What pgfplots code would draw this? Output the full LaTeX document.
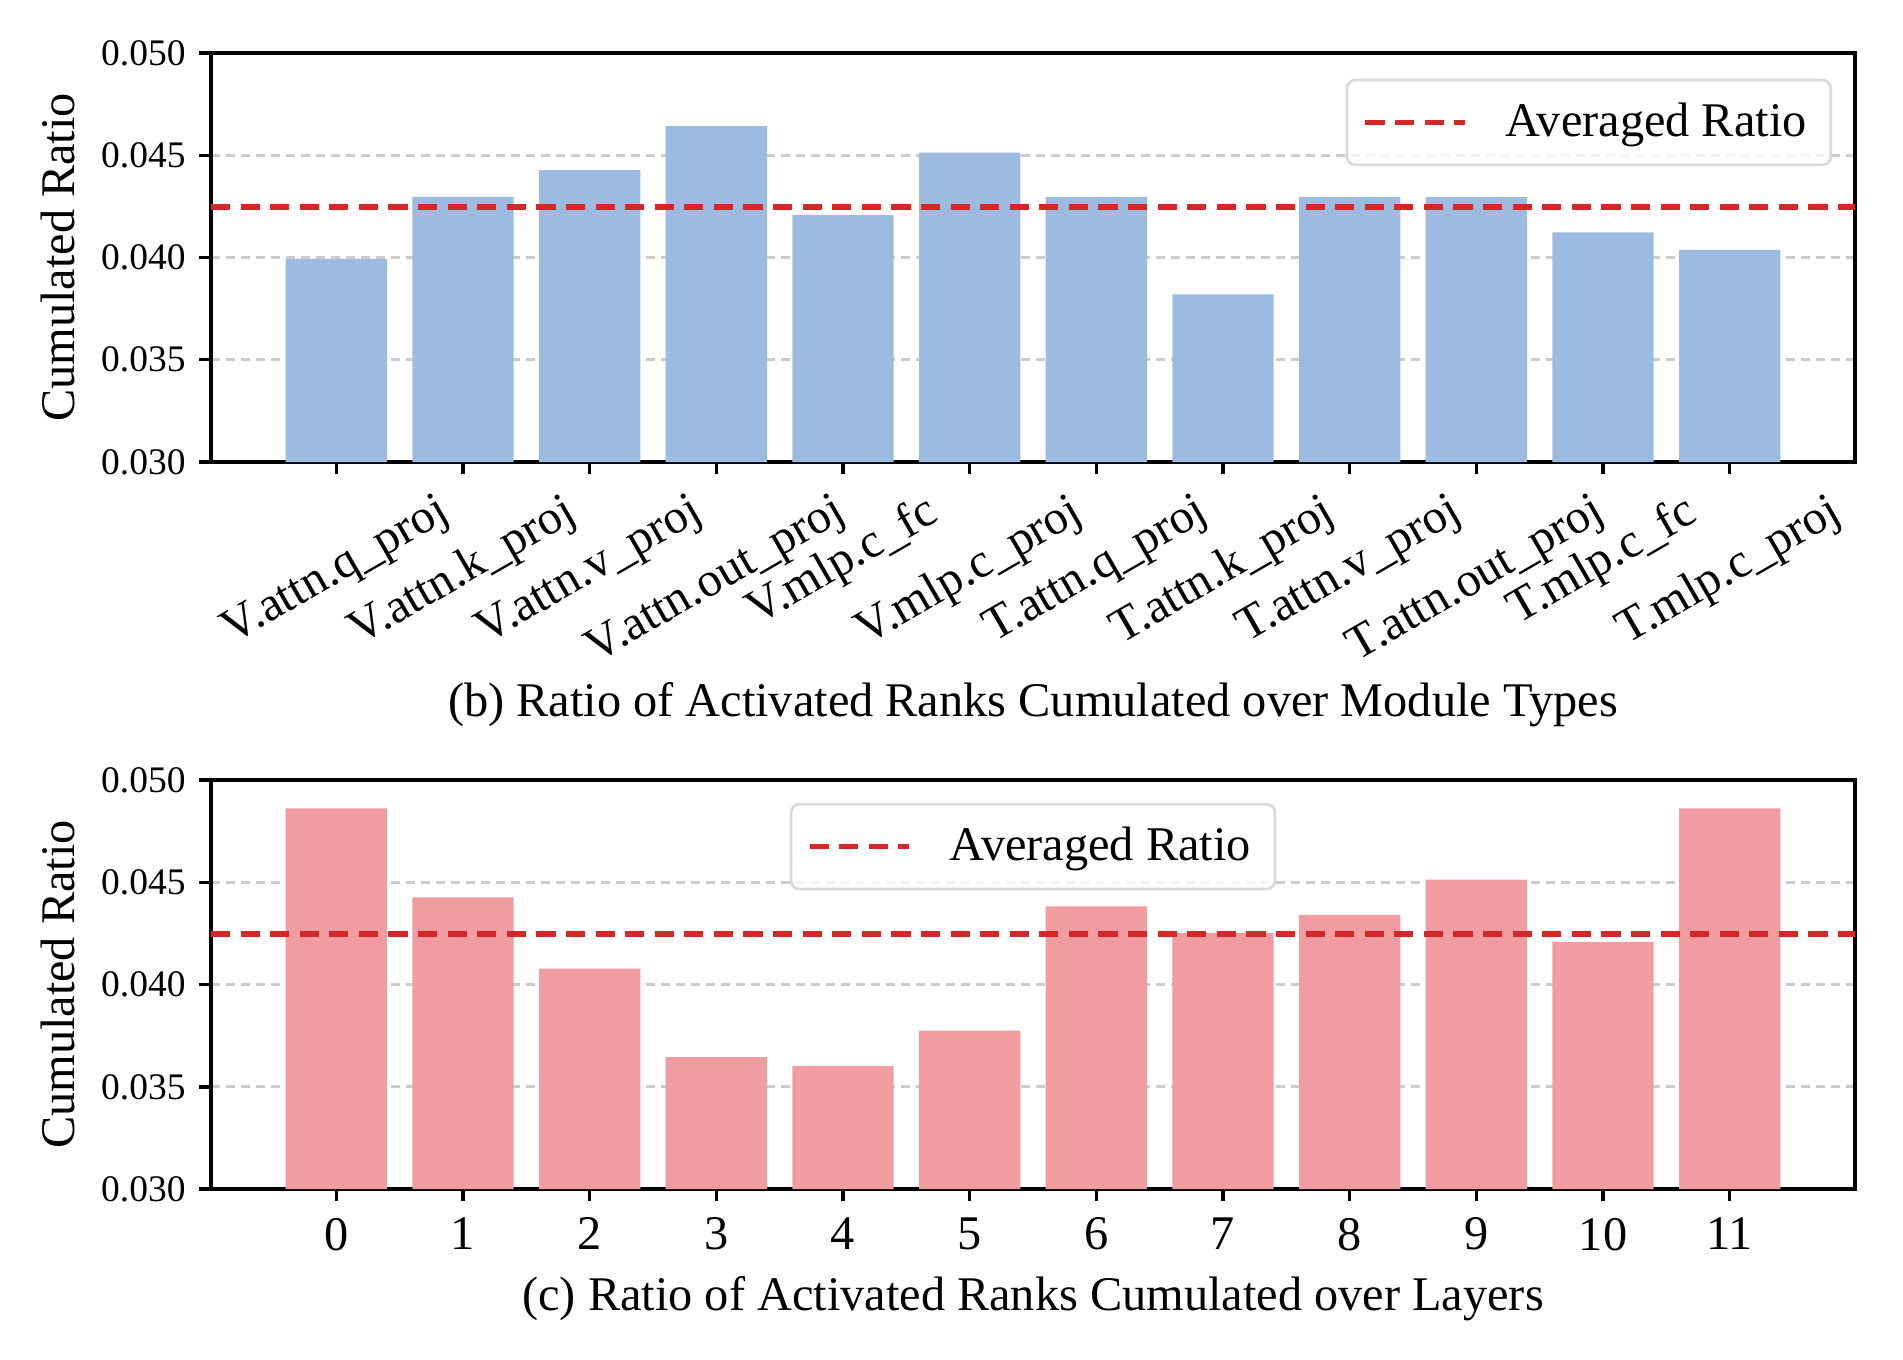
\documentclass[border=0pt]{standalone}
\usepackage{pgfplots}
\pgfplotsset{compat=1.18}
\usepackage{graphicx}
\usepackage{fontspec}
\setmainfont{Liberation Serif}

\definecolor{barblue}{RGB}{157,187,225}
\definecolor{barred}{RGB}{240,156,161}
\definecolor{avgred}{RGB}{214,39,40}
\newcommand{\rl}[1]{\rotatebox{30}{#1}}
\newcommand{\bigfont}{\fontsize{11.6}{13}\selectfont}

\pgfplotsset{
  ratio/.style={
    scale only axis, width=394.6pt, height=98.2pt,
    xmin=-0.99, xmax=11.99, ymin=0.030, ymax=0.050,
    xtick={0,...,11}, ytick={0.030,0.035,0.040,0.045,0.050},
    scaled y ticks=false,
    tick align=outside, xtick pos=bottom, ytick pos=left,
    major tick length=2.9pt,
    every tick/.style={black, line width=0.8pt},
    axis line style={line width=0.8pt},
    ymajorgrids,
    major grid style={gray!40, line width=0.65pt, dash pattern=on 2.2pt off 1.4pt},
    yticklabel style={font=\fontsize{9}{10}\selectfont, inner sep=0pt, xshift=-3pt,
      /pgf/number format/fixed, /pgf/number format/fixed zerofill,
      /pgf/number format/precision=3, /pgf/number format/assume math mode=true},
    xticklabel style={font=\bigfont, anchor=north, inner sep=0pt, yshift=-3.8pt},
    ylabel={Cumulated Ratio},
    ylabel style={at={([xshift=-36.7pt]axis description cs:0,0.5)}, anchor=center, font=\bigfont},
    legend style={draw=gray!30, line width=0.65pt, rounded corners=2pt,
      fill=white, fill opacity=0.8, draw opacity=1, text opacity=1,
      font=\bigfont, inner xsep=3.8pt, inner ysep=3.4pt},
    legend image code/.code={\draw[#1] (0pt,0pt) -- (23.8pt,0pt); \path (31pt,0pt);},
  },
  avgline/.style={avgred, line width=1.3pt, dash pattern=on 4.6pt off 2.5pt},
}

\begin{document}
\begin{tikzpicture}
\path[use as bounding box] (-50.64pt,-215.3pt) rectangle (406.1pt,110.9pt);

% (b) module types
\begin{axis}[ratio, at={(0,0)}, anchor=south west,
  xticklabels={\rl{V.attn.q\_proj}, \rl{V.attn.k\_proj}, \rl{V.attn.v\_proj},
    \rl{V.attn.out\_proj}, \rl{V.mlp.c\_fc}, \rl{V.mlp.c\_proj},
    \rl{T.attn.q\_proj}, \rl{T.attn.k\_proj}, \rl{T.attn.v\_proj},
    \rl{T.attn.out\_proj}, \rl{T.mlp.c\_fc}, \rl{T.mlp.c\_proj}},
  xlabel={(b) Ratio of Activated Ranks Cumulated over Module Types},
  xlabel style={at={([yshift=-58.3pt]axis description cs:0.5,0)}, anchor=center, font=\bigfont},
  legend style={at={(1,1)}, anchor=north east, xshift=-5.5pt, yshift=-6.2pt},
]
\addplot[ybar, bar width=0.8, fill=barblue, draw=none, forget plot] coordinates {
  (0,0.03993) (1,0.04296) (2,0.04427) (3,0.04642) (4,0.04208) (5,0.04513)
  (6,0.04295) (7,0.03820) (8,0.04295) (9,0.04295) (10,0.04123) (11,0.04037)
};
\addplot[avgline] coordinates {(-0.99,0.04247) (11.99,0.04247)};
\addlegendentry{Averaged Ratio}
\end{axis}

% (c) layers
\begin{axis}[ratio, at={(0,-174.5pt)}, anchor=south west,
  xticklabels={0,1,2,3,4,5,6,7,8,9,10,11},
  xlabel={(c) Ratio of Activated Ranks Cumulated over Layers},
  xlabel style={at={([yshift=-26.2pt]axis description cs:0.5,0)}, anchor=center, font=\bigfont},
  legend style={at={(0.5,1)}, anchor=north, yshift=-5.5pt},
]
\addplot[ybar, bar width=0.8, fill=barred, draw=none, forget plot] coordinates {
  (0,0.04861) (1,0.04426) (2,0.04078) (3,0.03645) (4,0.03601) (5,0.03775)
  (6,0.04382) (7,0.04253) (8,0.04341) (9,0.04513) (10,0.04209) (11,0.04861)
};
\addplot[avgline] coordinates {(-0.99,0.04247) (11.99,0.04247)};
\addlegendentry{Averaged Ratio}
\end{axis}
\end{tikzpicture}
\end{document}
